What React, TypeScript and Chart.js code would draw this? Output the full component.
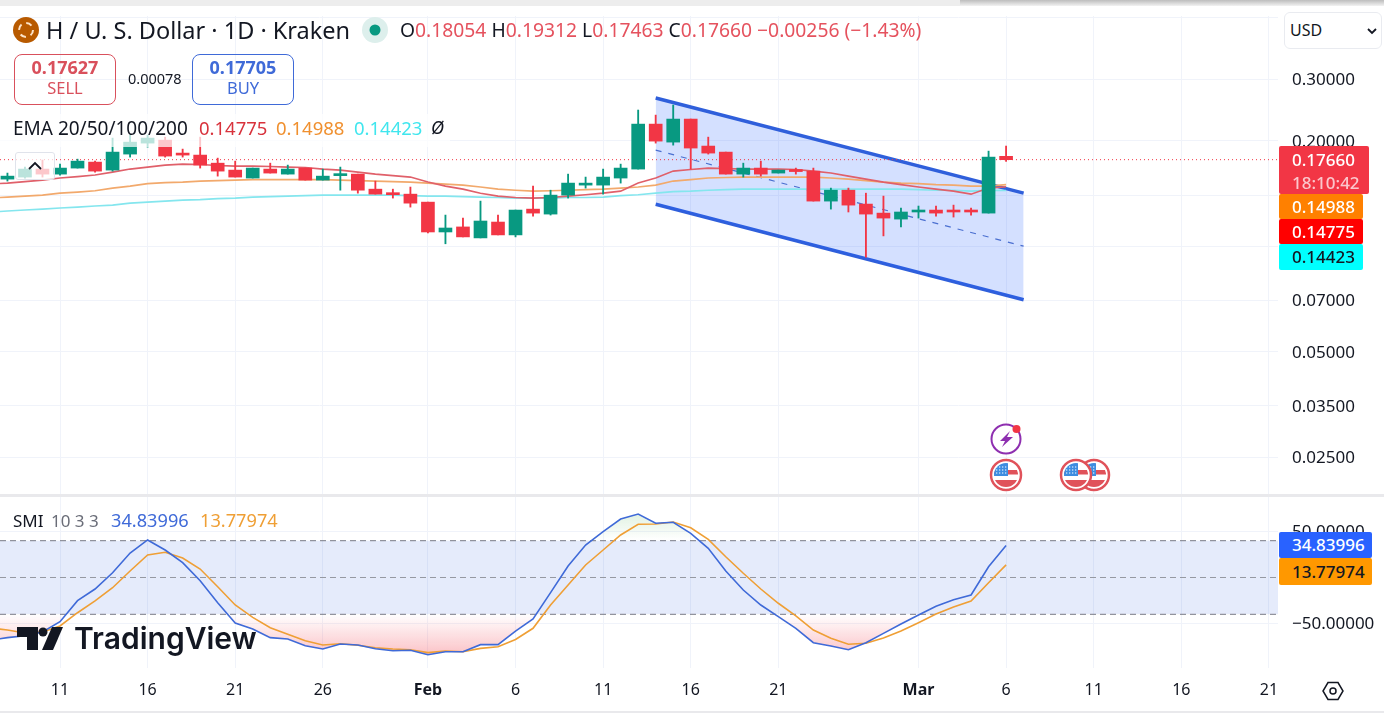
import { useEffect, useRef } from 'react'
import Chart from 'chart.js/auto'

const FONT = '"Noto Sans", sans-serif'
const WIDTH = 1384
const HEIGHT = 717

// first entry is Jan 7, counted in days from Jan 11
const firstDay = -4
const opens = [
  0.153, 0.1554, 0.1575, 0.166, 0.1606, 0.1671, 0.1738, 0.1649, 0.1832, 0.1969,
  0.2008, 0.1838, 0.182, 0.1726, 0.1649, 0.1565, 0.166, 0.1606, 0.1671, 0.1544,
  0.159, 0.1606, 0.1455, 0.1417, 0.1408, 0.1336, 0.1098, 0.1135, 0.1056, 0.1172,
  0.1077, 0.1276, 0.1235, 0.1399, 0.1494, 0.1494, 0.1565, 0.166, 0.2231, 0.1982,
  0.2306, 0.1931, 0.1856, 0.1606, 0.1671, 0.1617, 0.1649, 0.1638, 0.1345, 0.1445,
  0.1319, 0.1243, 0.1195, 0.1252, 0.1268, 0.126, 0.126, 0.1243, 0.18054,
]
const highs = [
  0.157, 0.1617, 0.1682, 0.1761, 0.1715, 0.1772, 0.1749, 0.2035, 0.2075, 0.2075,
  0.2048, 0.1893, 0.2048, 0.1784, 0.1749, 0.1671, 0.1726, 0.1704, 0.1671, 0.166,
  0.1682, 0.1606, 0.1534, 0.1455, 0.1475, 0.1336, 0.1227, 0.1203, 0.1345, 0.1227,
  0.1268, 0.1484, 0.1445, 0.1606, 0.1575, 0.166, 0.1715, 0.2447, 0.2367, 0.2528,
  0.2306, 0.2048, 0.1856, 0.1726, 0.1749, 0.1649, 0.1671, 0.1671, 0.1465, 0.1465,
  0.1417, 0.139, 0.1285, 0.1302, 0.1302, 0.131, 0.1285, 0.1868, 0.19312,
]
const lows = [
  0.151, 0.1534, 0.1565, 0.1575, 0.1596, 0.1671, 0.1627, 0.1638, 0.1796, 0.1918,
  0.1796, 0.1796, 0.1671, 0.1585, 0.1575, 0.1565, 0.1617, 0.1606, 0.1544, 0.1544,
  0.1445, 0.1417, 0.1408, 0.1372, 0.1293, 0.1091, 0.1016, 0.1063, 0.1056, 0.1077,
  0.1063, 0.1219, 0.1227, 0.1372, 0.1465, 0.1408, 0.1514, 0.166, 0.1969, 0.1943,
  0.166, 0.1832, 0.1606, 0.1575, 0.1585, 0.1617, 0.1606, 0.1345, 0.1276, 0.1252,
  0.093, 0.107, 0.1135, 0.1203, 0.1219, 0.1211, 0.1227, 0.1243, 0.17463,
]
const closes = [
  0.1554, 0.1585, 0.166, 0.1606, 0.1671, 0.1749, 0.1638, 0.1856, 0.1982, 0.2035,
  0.1808, 0.182, 0.1704, 0.1638, 0.1575, 0.1671, 0.1617, 0.166, 0.1544, 0.1585,
  0.1596, 0.1445, 0.1408, 0.1403, 0.1327, 0.1098, 0.1127, 0.1063, 0.118, 0.1077,
  0.1268, 0.1243, 0.1399, 0.1514, 0.1504, 0.1575, 0.1671, 0.2231, 0.1995, 0.2306,
  0.1906, 0.1844, 0.1606, 0.1671, 0.1606, 0.1649, 0.1633, 0.1345, 0.1445, 0.131,
  0.1235, 0.1203, 0.1252, 0.126, 0.1243, 0.1252, 0.1252, 0.1796, 0.1766,
]

const ema20 = [
  0.1504, 0.1514, 0.1529, 0.1544, 0.1565, 0.158, 0.1596, 0.1627, 0.166, 0.1682,
  0.1704, 0.1715, 0.171, 0.1699, 0.1693, 0.1693, 0.1688, 0.1682, 0.1677, 0.166,
  0.1649, 0.1627, 0.1606, 0.159, 0.1575, 0.1524, 0.1484, 0.1455, 0.1417, 0.139,
  0.1377, 0.1372, 0.1377, 0.139, 0.1403, 0.1417, 0.1436, 0.1514, 0.1565, 0.1638,
  0.1655, 0.1671, 0.1666, 0.166, 0.166, 0.166, 0.1655, 0.1638, 0.1617, 0.1585,
  0.1554, 0.1524, 0.1499, 0.1475, 0.1455, 0.1436, 0.1408, 0.1465, 0.14775,
]
const ema50 = [
  0.1372, 0.1381, 0.139, 0.1399, 0.1417, 0.1427, 0.144, 0.1465, 0.1484, 0.1509,
  0.1519, 0.1524, 0.1534, 0.1539, 0.1544, 0.1549, 0.1549, 0.1549, 0.1549, 0.1549,
  0.1544, 0.1539, 0.1534, 0.1529, 0.1524, 0.1514, 0.1504, 0.1494, 0.1475, 0.1455,
  0.1445, 0.1436, 0.144, 0.1445, 0.145, 0.1455, 0.1465, 0.1475, 0.1494, 0.1534,
  0.1549, 0.1565, 0.157, 0.1575, 0.1575, 0.1575, 0.1575, 0.1575, 0.1565, 0.1554,
  0.1539, 0.1524, 0.1514, 0.1509, 0.1499, 0.1494, 0.1484, 0.1484, 0.14988,
]
const ema100 = [
  0.1252, 0.126, 0.1268, 0.1276, 0.1285, 0.1293, 0.1302, 0.131, 0.1327, 0.1336,
  0.1345, 0.1354, 0.1358, 0.1367, 0.1372, 0.1381, 0.1385, 0.139, 0.1394, 0.1399,
  0.1399, 0.1399, 0.1399, 0.1399, 0.1394, 0.139, 0.139, 0.1385, 0.1381, 0.1377,
  0.1372, 0.1372, 0.1372, 0.1377, 0.1377, 0.1381, 0.1394, 0.1403, 0.1417, 0.1431,
  0.1436, 0.1445, 0.145, 0.1455, 0.1455, 0.1455, 0.1455, 0.1455, 0.1455, 0.1455,
  0.1455, 0.1455, 0.1455, 0.145, 0.1445, 0.1445, 0.1436, 0.1445, 0.14423,
]

const smi = [
  -68, -65.4, -63.3, -59.2, -48, -25.2, -12.5, 5.2, 26.6, 40.8,
  29.9, 16.1, -3.5, -27.4, -49.5, -56, -65.4, -66.8, -74.1, -77.7,
  -72.3, -73.4, -77.4, -79.6, -79.1, -83.9, -80.7, -80.7, -73, -73,
  -58.2, -45.1, -16.5, 12.5, 35.3, 49.8, 63.6, 69, 58.9, 60,
  48, 31.7, 7.1, -13.6, -29.9, -42.6, -55.2, -70.9, -74.5, -78.5,
  -70.9, -60.7, -50.5, -40.8, -31.3, -24.1, -19, 11.7, 34.84,
]
const smiSignal = [
  -54.9, -57.1, -60.3, -59.2, -52.7, -38.3, -25.5, -11.1, 7.1, 24.5,
  27.4, 21.2, 9.2, -10, -29.9, -43.3, -54.6, -61.7, -68.7, -73.4,
  -72, -73.7, -76.3, -77.7, -78.5, -81.7, -79.9, -80.7, -77, -75.2,
  -67.4, -55.2, -29.9, -8.2, 13.6, 29.9, 46.2, 57.8, 58.2, 60.3,
  54.1, 41.5, 22.6, 4.6, -12.5, -28, -41.8, -57.1, -66.1, -72.6,
  -71.5, -65.8, -58.2, -49.1, -39.7, -32.1, -25.5, -5.7, 13.78,
]

// parallel channel drawing, [day, price]
const channelTop = [[34, 0.2648], [55, 0.1417]]
const channelMid = [[34, 0.188], [55, 0.1]]
const channelBottom = [[34, 0.1318], [55, 0.0703]]

const lastPrice = 0.1766
const priceTicks = [0.45, 0.3, 0.2, 0.14, 0.1, 0.07, 0.05, 0.035, 0.025]
const smiTicks = [50, -50]
const smiUpper = 40
const smiMiddle = 0
const smiLower = -40
const tickDays = [0, 5, 10, 15, 21, 26, 31, 36, 41, 49, 54, 59, 64, 69]
const tickLabels = ['11', '16', '21', '26', 'Feb', '6', '11', '16', '21', 'Mar', '6', '11', '16', '21']

const X_MIN = -3.425
const X_MAX = 69.52
const UP = '#089981'
const DOWN = '#F23645'
const GRID = '#F0F3FA'

const series = (values: number[]) => values.map((y, i) => ({ x: firstDay + i, y }))
const segment = (points: number[][]) => points.map(([x, y]) => ({ x, y }))
const hline = (y: number) => [{ x: X_MIN, y }, { x: X_MAX, y }]

const xScale = (showLabels: boolean) => ({
  type: 'linear',
  min: X_MIN,
  max: X_MAX,
  bounds: 'data',
  offset: false,
  border: { display: false },
  grid: { color: GRID, drawTicks: false, offset: false },
  afterBuildTicks: (axis: any) => {
    axis.ticks = tickDays.map((value) => ({ value }))
  },
  afterFit: (axis: any) => {
    axis.height = showLabels ? 49 : 0
    axis.paddingLeft = 0
    axis.paddingRight = 0
  },
  ticks: {
    display: showLabels,
    autoSkip: false,
    maxRotation: 0,
    padding: 13,
    color: '#131722',
    font: (ctx: any) => ({
      family: FONT,
      size: 16,
      weight: ctx.tick && ctx.tick.label && ctx.tick.label.length > 2 ? 'bold' : 'normal',
    }),
    callback: (value: number) => tickLabels[tickDays.indexOf(value)] ?? '',
  },
})

const yScale = (type: string, min: number, max: number, values: number[], format: (v: number) => string) => ({
  type,
  position: 'right',
  min,
  max,
  bounds: 'data',
  border: { display: false },
  grid: { color: GRID, drawTicks: false },
  afterBuildTicks: (axis: any) => {
    axis.ticks = values.map((value) => ({ value }))
  },
  afterFit: (axis: any) => {
    axis.width = WIDTH - 1278
    axis.paddingTop = 0
    axis.paddingBottom = 0
  },
  ticks: {
    padding: 14,
    labelOffset: 1,
    color: '#131722',
    font: { family: FONT, size: 17 },
    callback: format,
  },
})

const baseOptions = (top: number, bottom: number, showLabels: boolean, y: any) => ({
  responsive: false,
  animation: false,
  devicePixelRatio: 1,
  layout: { autoPadding: false, padding: { top, bottom, left: 0, right: 0 } },
  plugins: { legend: { display: false }, tooltip: { enabled: false } },
  events: [],
  scales: { x: xScale(showLabels), y },
})

const line = (data: any[], color: string, width: number, order: number, extra: any = {}) => ({
  type: 'line',
  data,
  borderColor: color,
  borderWidth: width,
  pointRadius: 0,
  tension: 0,
  fill: false,
  order,
  ...extra,
})

function Text({ x, y, size = 16, color = '#131722', weight = 400, style, children }: any) {
  return (
    <div
      style={{
        position: 'absolute',
        left: x,
        top: y,
        transform: 'translateY(-50%)',
        fontSize: size,
        color,
        fontWeight: weight,
        whiteSpace: 'nowrap',
        lineHeight: 1.2,
        ...style,
      }}
    >
      {children}
    </div>
  )
}

function Badge({ top, height, width, bg, color, children }: any) {
  return (
    <div
      style={{
        position: 'absolute',
        left: 1279,
        top,
        width,
        height,
        background: bg,
        color,
        fontSize: 17,
        fontWeight: 500,
        borderRadius: 2,
        paddingLeft: 13,
        boxSizing: 'border-box',
        lineHeight: `${height}px`,
      }}
    >
      {children}
    </div>
  )
}

function TradeBox({ left, color, price, label }: any) {
  return (
    <div
      style={{
        position: 'absolute',
        left,
        top: 54,
        width: 102,
        height: 51,
        boxSizing: 'border-box',
        border: `1.5px solid ${color}`,
        borderRadius: 8,
        textAlign: 'center',
        color,
        lineHeight: 1.2,
        paddingTop: 2,
      }}
    >
      <div style={{ fontSize: 18, fontWeight: 700 }}>{price}</div>
      <div style={{ fontSize: 16.5, marginTop: -1 }}>{label}</div>
    </div>
  )
}

function FlagIcon({ x, y }: { x: number; y: number }) {
  return (
    <svg style={{ position: 'absolute', left: x - 17, top: y - 17 }} width={34} height={34} viewBox="0 0 34 34">
      <circle cx={17} cy={17} r={15} fill="#fff" stroke="#E0525A" strokeWidth={2.5} />
      <clipPath id={`flag${x}`}>
        <circle cx={17} cy={17} r={12} />
      </clipPath>
      <g clipPath={`url(#flag${x})`}>
        <rect x={0} y={5} width={34} height={24} fill="#fff" />
        <rect x={5} y={12} width={24} height={4.5} fill="#E0525A" />
        <rect x={5} y={22} width={24} height={7} fill="#E0525A" />
        <rect x={5} y={5} width={14} height={13} fill="#3D8DE0" />
        <path d="M7 9 H19 M7 12 H19 M7 15 H19" stroke="#fff" strokeWidth={1.2} strokeDasharray="1.3 1.7" />
      </g>
    </svg>
  )
}

export default function App() {
  const mainRef = useRef<HTMLCanvasElement>(null)
  const smiRef = useRef<HTMLCanvasElement>(null)

  useEffect(() => {
    if (!mainRef.current || !smiRef.current) return
    document.body.style.margin = '0'

    const colors = closes.map((c, i) => (c >= opens[i] ? UP : DOWN))
    const mainChart = new Chart(mainRef.current, {
      type: 'bar',
      data: {
        datasets: [
          {
            data: opens.map((o, i) => ({ x: firstDay + i, y: [o, closes[i]] })),
            backgroundColor: colors,
            barThickness: 13,
            minBarLength: 2,
            grouped: false,
            order: 1,
          },
          {
            data: lows.map((l, i) => ({ x: firstDay + i, y: [l, highs[i]] })),
            backgroundColor: colors,
            barThickness: 1.2,
            grouped: false,
            order: 2,
          },
          line(hline(lastPrice), DOWN, 1, 3, { borderDash: [1, 3] }),
          line(series(ema20), '#E0606A', 1.6, 4),
          line(series(ema50), '#F2A96C', 1.6, 5),
          line(series(ema100), '#84E6EE', 1.6, 6),
          line(segment(channelMid), '#4A6FD0', 1.2, 7, { borderDash: [6, 7] }),
          line(segment(channelTop), '#2F5FDB', 3.5, 8, {
            fill: '+1',
            backgroundColor: 'rgba(41,98,255,0.2)',
          }),
          line(segment(channelBottom), '#2F5FDB', 3.5, 8),
        ],
      } as any,
      options: baseOptions(
        16,
        HEIGHT - 494,
        false,
        // the top tick keeps its grid line, its label sits behind the currency selector
        yScale('logarithmic', 0.01962, 0.454, priceTicks, (v) =>
          Number(v) === priceTicks[0] ? '' : Number(v).toFixed(5)
        )
      ) as any,
    })

    const ctx = smiRef.current.getContext('2d') as CanvasRenderingContext2D
    const oversold = ctx.createLinearGradient(0, 614, 0, 655)
    oversold.addColorStop(0, 'rgba(242,54,69,0)')
    oversold.addColorStop(1, 'rgba(242,54,69,0.3)')
    const overbought = ctx.createLinearGradient(0, 540, 0, 512)
    overbought.addColorStop(0, 'rgba(76,175,80,0)')
    overbought.addColorStop(1, 'rgba(76,175,80,0.18)')

    const smiChart = new Chart(smiRef.current, {
      type: 'line',
      data: {
        datasets: [
          line(series(smi), '#3F6AD8', 1.6, 1),
          line(series(smiSignal), '#EF9F35', 1.6, 2),
          line(series(smi), 'transparent', 0, 3, {
            fill: { target: { value: smiLower }, above: 'transparent', below: oversold },
          }),
          line(series(smi), 'transparent', 0, 4, {
            fill: { target: { value: smiUpper }, above: overbought, below: 'transparent' },
          }),
          line(hline(smiMiddle), '#9598A1', 1, 5, { borderDash: [6, 4] }),
          line(hline(smiUpper), '#787B86', 1, 5, { borderDash: [6, 4] }),
          line(hline(smiLower), '#787B86', 1, 5, { borderDash: [6, 4] }),
          line(hline(smiUpper), 'transparent', 0, 6, {
            fill: { target: { value: smiLower }, above: 'rgba(41,90,220,0.12)' },
          }),
        ],
      } as any,
      options: baseOptions(
        497,
        0,
        true,
        yScale('linear', -98.37, 87.5, smiTicks, (v) =>
          (Number(v) < 0 ? '\u2212' : '') + Math.abs(Number(v)).toFixed(5)
        )
      ) as any,
    })

    return () => {
      mainChart.destroy()
      smiChart.destroy()
    }
  }, [])

  return (
    <div
      style={{
        position: 'fixed',
        left: 0,
        top: 0,
        width: WIDTH,
        height: HEIGHT,
        background: '#fff',
        overflow: 'hidden',
        fontFamily: FONT,
      }}
    >
      <canvas ref={mainRef} width={WIDTH} height={HEIGHT} style={{ position: 'absolute', left: 0, top: 0 }} />
      <canvas ref={smiRef} width={WIDTH} height={HEIGHT} style={{ position: 'absolute', left: 0, top: 0 }} />

      {/* page chrome */}
      <div style={{ position: 'absolute', left: 0, top: 0, width: 960, height: 6, background: '#EDEDED' }} />
      <div
        style={{
          position: 'absolute',
          left: 960,
          top: 0,
          width: 424,
          height: 6,
          background: 'linear-gradient(#BDBDBD, #F2F2F2)',
        }}
      />
      <div style={{ position: 'absolute', left: 0, top: 494, width: WIDTH, height: 2.5, background: '#E9E9EC' }} />
      <div style={{ position: 'absolute', left: 0, top: 711, width: WIDTH, height: 1.5, background: '#E9E9EC' }} />

      {/* header */}
      <svg style={{ position: 'absolute', left: 13, top: 17 }} width={26} height={26} viewBox="0 0 26 26">
        <circle cx={13} cy={13} r={13} fill="#B85A00" />
        <circle cx={13} cy={13} r={7} fill="none" stroke="#FCE3C8" strokeWidth={2} strokeDasharray="6 5" />
      </svg>
      <Text x={46} y={30} size={23.5}>
        H / U. S. Dollar · 1D · Kraken
      </Text>
      <svg style={{ position: 'absolute', left: 362, top: 17 }} width={26} height={26} viewBox="0 0 26 26">
        <circle cx={13} cy={13} r={13} fill="#DDEFEC" />
        <circle cx={13} cy={13} r={5.5} fill={UP} />
      </svg>
      <Text x={400} y={30} size={19.3} color="#E5525E">
        <span style={{ color: '#131722' }}>O</span>0.18054 <span style={{ color: '#131722' }}>H</span>0.19312{' '}
        <span style={{ color: '#131722' }}>L</span>0.17463 <span style={{ color: '#131722' }}>C</span>0.17660 −0.00256
        (−1.43%)
      </Text>

      <TradeBox left={14} color="#D9505C" price="0.17627" label="SELL" />
      <Text x={128} y={79} size={14.5}>
        0.00078
      </Text>
      <TradeBox left={192} color="#3F6AD8" price="0.17705" label="BUY" />

      {/* indicator legend, sits over the candles */}
      <div
        style={{
          position: 'absolute',
          left: 0,
          top: 114,
          width: 450,
          height: 33,
          background: 'rgba(255,255,255,0.72)',
        }}
      />
      <Text x={13} y={128} size={19}>
        EMA 20/50/100/200
      </Text>
      <Text x={199} y={128} size={18.5} color="#D8323C">
        0.14775
      </Text>
      <Text x={276} y={128} size={18.5} color="#F0902F">
        0.14988
      </Text>
      <Text x={354} y={128} size={18.5} color="#40E6EE">
        0.14423
      </Text>
      <Text x={431} y={128} size={18} style={{ fontStyle: 'italic' }}>
        Ø
      </Text>

      <div
        style={{
          position: 'absolute',
          left: 15,
          top: 152,
          width: 40,
          height: 28,
          boxSizing: 'border-box',
          border: '1px solid #E0E3EB',
          borderRadius: 3,
          background: 'rgba(255,255,255,0.72)',
        }}
      />
      <svg style={{ position: 'absolute', left: 28, top: 161 }} width={14} height={9} viewBox="0 0 14 9">
        <path d="M1 8 L7 2 L13 8" fill="none" stroke="#131722" strokeWidth={1.8} />
      </svg>

      <Text x={13} y={521} size={17}>
        SMI <span style={{ color: '#6A6D78', marginLeft: 3 }}>10 3 3</span>
      </Text>
      <Text x={111} y={521} size={18.2} color="#3F6AD8">
        34.83996
      </Text>
      <Text x={200} y={521} size={18.2} color="#EF9F35">
        13.77974
      </Text>

      {/* currency selector */}
      <div
        style={{
          position: 'absolute',
          left: 1284,
          top: 12,
          width: 98,
          height: 37,
          boxSizing: 'border-box',
          border: '1px solid #E9EBF0',
          borderRadius: 6,
          background: '#fff',
        }}
      />
      <Text x={1290} y={31} size={16}>
        USD
      </Text>
      <svg style={{ position: 'absolute', left: 1367, top: 28 }} width={10} height={7} viewBox="0 0 10 7">
        <path d="M1 1 L5 5 L9 1" fill="none" stroke="#131722" strokeWidth={1.8} />
      </svg>

      {/* price scale badges */}
      <Badge top={146} height={48} width={90} bg={DOWN} color="#fff">
        <div style={{ lineHeight: '27px', height: 27 }}>0.17660</div>
        <div style={{ lineHeight: '20px', color: '#FBC7CC' }}>18:10:42</div>
      </Badge>
      <Badge top={194} height={25} width={84} bg="#FF8000" color="#fff">
        0.14988
      </Badge>
      <Badge top={219} height={25} width={84} bg="#FF0000" color="#fff">
        0.14775
      </Badge>
      <Badge top={244} height={26} width={84} bg="#00FFFF" color="#131722">
        0.14423
      </Badge>
      <Badge top={532} height={26} width={93} bg="#2962FF" color="#fff">
        34.83996
      </Badge>
      <Badge top={558} height={27} width={93} bg="#FF9800" color="#131722">
        13.77974
      </Badge>

      {/* event markers */}
      <svg style={{ position: 'absolute', left: 989, top: 421 }} width={36} height={36} viewBox="0 0 36 36">
        <circle cx={17} cy={18} r={14.5} fill="#fff" stroke="#8E2FB0" strokeWidth={2} />
        <path d="M21 10 L11 20 L16 20 L13 26 L24 16 L18 16 Z" fill="#8E2FB0" />
        <circle cx={27.5} cy={8} r={4} fill={DOWN} />
      </svg>
      <FlagIcon x={1094} y={475} />
      <FlagIcon x={1076} y={475} />
      <FlagIcon x={1006} y={475} />

      {/* watermark */}
      <svg style={{ position: 'absolute', left: 17, top: 627 }} width={46} height={23} viewBox="0 0 46 23">
        <path d="M0 0 H21 V23 H10 V10 H0 Z" fill="#131722" />
        <circle cx={26} cy={5} r={4.5} fill="#131722" />
        <path d="M35 0 H46 L36 23 H25 Z" fill="#131722" />
      </svg>
      <Text x={74} y={638} size={30} weight={600} style={{ fontFamily: 'Inter, sans-serif' }}>
        TradingView
      </Text>

      {/* settings */}
      <svg style={{ position: 'absolute', left: 1322, top: 681 }} width={22} height={20} viewBox="0 0 22 20">
        <path d="M6 1.5 H16 L21 10 L16 18.5 H6 L1 10 Z" fill="none" stroke="#131722" strokeWidth={1.5} />
        <circle cx={11} cy={10} r={3} fill="none" stroke="#131722" strokeWidth={1.5} />
      </svg>
    </div>
  )
}
